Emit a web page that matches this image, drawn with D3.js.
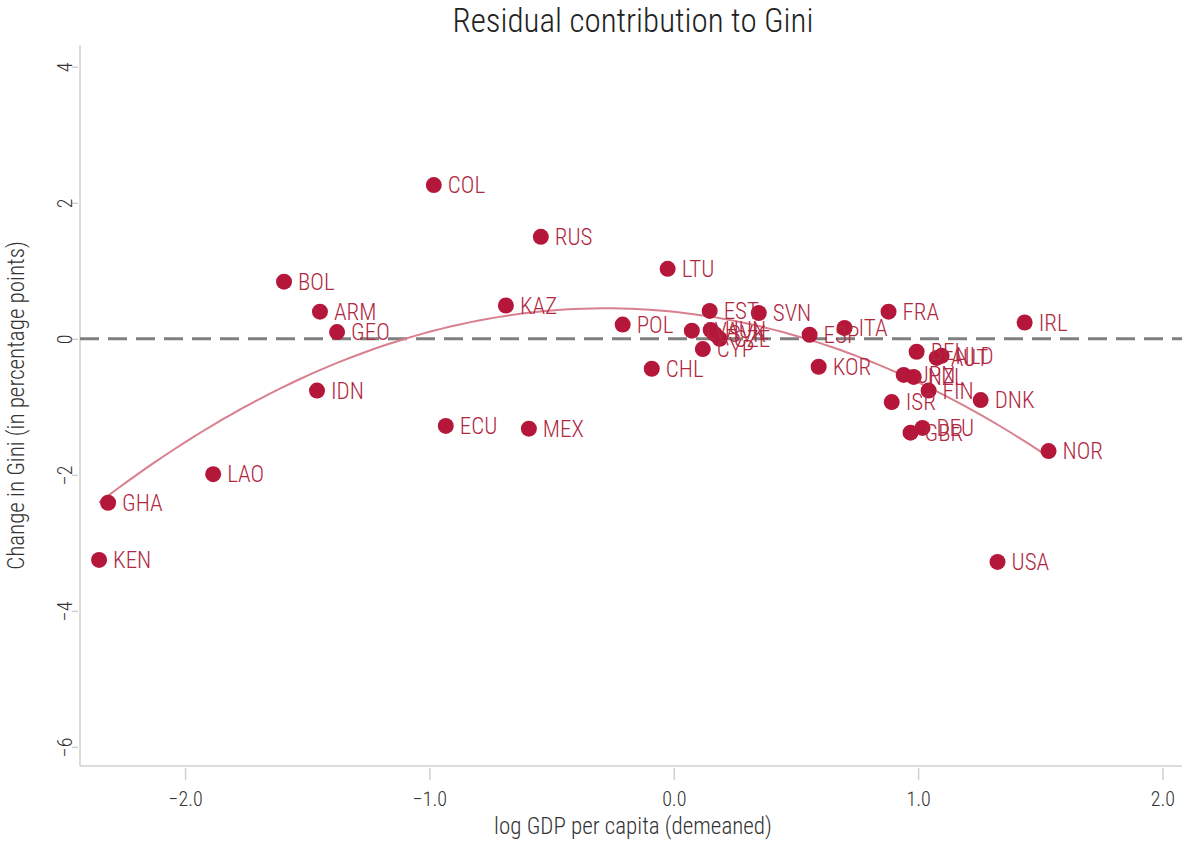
<!DOCTYPE html>
<html>
<head>
<meta charset="utf-8">
<script src="https://cdn.jsdelivr.net/npm/d3@7"></script>
<style>
  body { margin: 0; background: #fff; }
  text { font-family: "Roboto Condensed", "Liberation Sans Narrow", "DejaVu Sans Condensed", sans-serif; font-weight: 300; }
</style>
</head>
<body>
<div class="chart"></div>
<script>
// country codes, log GDP per capita (demeaned), change in Gini
const countries = ['KEN', 'GHA', 'LAO', 'BOL', 'ARM', 'GEO', 'IDN', 'COL', 'ECU', 'RUS',
  'KAZ', 'MEX', 'POL', 'CHL', 'LTU', 'EST', 'SVN', 'LVA', 'HUN', 'SVK', 'CZE', 'CYP',
  'ESP', 'KOR', 'ITA', 'FRA', 'BEL', 'AUT', 'NLD', 'JPN', 'NZL', 'FIN', 'ISR', 'DNK',
  'DEU', 'GBR', 'IRL', 'NOR', 'USA']
const gdp = [-2.352, -2.315, -1.885, -1.595, -1.448, -1.378, -1.46, -0.982, -0.933, -0.544,
  -0.687, -0.593, -0.209, -0.09, -0.025, 0.147, 0.348, 0.074, 0.151, 0.168, 0.188, 0.119,
  0.556, 0.593, 0.699, 0.879, 0.994, 1.076, 1.096, 0.941, 0.982, 1.043, 0.892, 1.256,
  1.018, 0.969, 1.436, 1.534, 1.325]
const gini = [-3.25, -2.41, -1.99, 0.84, 0.40, 0.10, -0.76, 2.26, -1.28, 1.50,
  0.49, -1.32, 0.21, -0.44, 1.03, 0.41, 0.38, 0.12, 0.13, 0.07, 0.00, -0.15,
  0.06, -0.41, 0.16, 0.40, -0.19, -0.28, -0.25, -0.53, -0.56, -0.76, -0.93, -0.90,
  -1.31, -1.38, 0.24, -1.65, -3.28]
const xTicks = [-2, -1, 0, 1, 2]
const yTicks = [4, 2, 0, -2, -4, -6]

const data = countries.map((c, i) => ({code: c, x: gdp[i], y: gini[i]}))

// quadratic least-squares fit through the points
function quadFit(pts) {
  const S = [0, 0, 0, 0, 0], T = [0, 0, 0]
  pts.forEach(p => {
    for (let k = 0; k < 5; k++) S[k] += Math.pow(p.x, k)
    for (let k = 0; k < 3; k++) T[k] += Math.pow(p.x, k) * p.y
  })
  const A = [[S[0], S[1], S[2], T[0]], [S[1], S[2], S[3], T[1]], [S[2], S[3], S[4], T[2]]]
  for (let i = 0; i < 3; i++) {
    for (let j = i + 1; j < 3; j++) {
      const f = A[j][i] / A[i][i]
      for (let k = i; k < 4; k++) A[j][k] -= f * A[i][k]
    }
  }
  const c = [0, 0, 0]
  for (let i = 2; i >= 0; i--) {
    let s = A[i][3]
    for (let k = i + 1; k < 3; k++) s -= A[i][k] * c[k]
    c[i] = s / A[i][i]
  }
  return c
}
const coef = quadFit(data)
const xMin = d3.min(gdp), xMax = d3.max(gdp)
const fitLine = d3.range(0, 101).map(i => {
  const x = xMin + (xMax - xMin) * i / 100
  return {x: x, y: coef[0] + coef[1] * x + coef[2] * x * x}
})

const W = 1182, H = 841
const margin = {top: 45, right: 0, bottom: 75, left: 80}
const font = '"Roboto Condensed", "Liberation Sans Narrow", "DejaVu Sans Condensed", sans-serif'

const x = d3.scaleLinear()
  .domain([-2.43, 2.08])
  .range([margin.left, W - margin.right])
const y = d3.scaleLinear()
  .domain([-6.28, 4.32])
  .range([H - margin.bottom, margin.top])

const svg = d3.select('.chart').append('svg')
  .attr('width', W)
  .attr('height', H)

// title
svg.append('text')
  .attr('x', 633)
  .attr('y', 32)
  .attr('text-anchor', 'middle')
  .style('font-size', '33px')
  .style('fill', '#222')
  .text('Residual contribution to Gini')

// axis lines
svg.append('line')
  .attr('x1', margin.left).attr('x2', margin.left)
  .attr('y1', margin.top).attr('y2', H - margin.bottom)
  .style('stroke', '#d0d0d0').style('stroke-width', 1.5)
svg.append('line')
  .attr('x1', margin.left).attr('x2', W)
  .attr('y1', H - margin.bottom).attr('y2', H - margin.bottom)
  .style('stroke', '#d0d0d0').style('stroke-width', 1.5)

// x axis
const xAxis = svg.append('g')
  .attr('transform', 'translate(0,' + (H - margin.bottom + 2) + ')')
  .call(d3.axisBottom(x).tickValues(xTicks).tickFormat(d3.format('.1f')).tickSize(12).tickPadding(12))
xAxis.select('.domain').remove()
xAxis.selectAll('.tick line').style('stroke', '#d0d0d0').style('stroke-width', 1.5)
xAxis.selectAll('.tick text')
  .style('font-size', '20px').style('fill', '#333').style('font-weight', 300)
  .style('font-family', font)

svg.append('text')
  .attr('x', 633)
  .attr('y', 834)
  .attr('text-anchor', 'middle')
  .style('font-size', '23px')
  .style('fill', '#333')
  .text('log GDP per capita (demeaned)')

// y axis
const yAxis = svg.append('g')
  .attr('transform', 'translate(' + (margin.left - 2) + ',0)')
  .call(d3.axisLeft(y).tickValues(yTicks).tickSize(6).tickPadding(4))
yAxis.select('.domain').remove()
yAxis.selectAll('.tick line').style('stroke', '#d0d0d0').style('stroke-width', 1.5)
yAxis.selectAll('.tick text')
  .attr('transform', 'rotate(-90)')
  .attr('x', 0)
  .attr('y', -12)
  .attr('dy', '0.32em')
  .style('text-anchor', 'middle')
  .style('font-size', '20px').style('fill', '#333').style('font-weight', 300)
  .style('font-family', font)

svg.append('text')
  .attr('transform', 'translate(24,' + ((margin.top + H - margin.bottom) / 2) + ') rotate(-90)')
  .attr('text-anchor', 'middle')
  .style('font-size', '23px')
  .style('fill', '#333')
  .text('Change in Gini (in percentage points)')

// zero reference line
svg.append('line')
  .attr('x1', margin.left).attr('x2', W)
  .attr('y1', y(0)).attr('y2', y(0))
  .style('stroke', '#7f7f7f')
  .style('stroke-width', 3)
  .style('stroke-dasharray', '19,9')

// fitted curve
const line = d3.line()
  .x(d => x(d.x))
  .y(d => y(d.y))
svg.append('path')
  .datum(fitLine)
  .attr('d', line)
  .style('fill', 'none')
  .style('stroke', '#d9808f')
  .style('stroke-width', 2)

// points
svg.selectAll('.dot')
  .data(data)
  .enter()
  .append('circle')
  .attr('class', 'dot')
  .attr('cx', d => x(d.x))
  .attr('cy', d => y(d.y))
  .attr('r', 8)
  .style('fill', '#b5173b')

svg.selectAll('.lbl')
  .data(data)
  .enter()
  .append('text')
  .attr('class', 'lbl')
  .attr('x', d => x(d.x) + 14)
  .attr('y', d => y(d.y))
  .attr('dy', '0.36em')
  .style('font-size', '23px')
  .style('fill', '#b0283f')
  .text(d => d.code)
</script>
</body>
</html>
